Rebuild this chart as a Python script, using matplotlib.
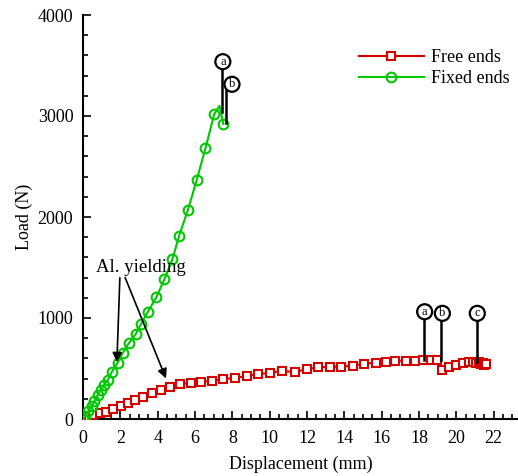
import matplotlib
matplotlib.use("Agg")
import matplotlib.pyplot as plt
from matplotlib.ticker import MultipleLocator

plt.rcParams['font.family'] = ['Liberation Serif', 'DejaVu Serif']

# Free ends (red squares)
free_x = [0, 0.3, 0.56, 0.91, 1.22, 1.62, 2.03, 2.43, 2.79, 3.24, 3.7, 4.16, 4.66, 5.22,
          5.78, 6.34, 6.9, 7.5, 8.16, 8.77, 9.38, 9.99, 10.65, 11.36, 12.02, 12.57, 13.23,
          13.84, 14.45, 15.06, 15.67, 16.22, 16.73, 17.29, 17.8, 18.2, 18.66, 18.96, 19.25,
          19.62, 19.98, 20.33, 20.69, 20.9, 21.04, 21.2, 21.3, 21.4, 21.5, 21.6]
free_y = [0, 20, 35, 56, 72, 96, 129, 155, 188, 221, 254, 290, 320, 344,
          360, 368, 378, 393, 409, 426, 443, 458, 475, 465, 495, 510, 518,
          518, 528, 548, 557, 567, 577, 577, 577, 580, 584, 584, 490,
          518, 535, 551, 567, 560, 555, 565, 540, 555, 530, 540]

# Fixed ends (green circles)
fixed_x = [0, 0.1, 0.28, 0.47, 0.61, 0.79, 0.96, 1.14, 1.34, 1.54, 1.85, 2.13, 2.45,
           2.82, 3.12, 3.47, 3.92, 4.36, 4.79, 5.15, 5.62, 6.09, 6.56, 7.03, 7.31, 7.52]
fixed_y = [0, 25, 75, 125, 175, 240, 290, 340, 390, 465, 555, 655, 748,
           840, 945, 1060, 1203, 1383, 1581, 1815, 2070, 2366, 2680, 3020, 3100, 2920]

# annotation labels: (label, bubble_x, bubble_y, line_x, line_top, line_bottom)
ann_labels = ['a', 'b', 'a', 'b', 'c']
ann_bx = [7.49, 7.98, 18.3, 19.25, 21.12]
ann_by = [3538, 3314, 1062, 1046, 1046]
ann_lx = [7.43, 7.65, 18.25, 19.15, 21.08]
ann_ltop = [3500, 3314, 1030, 1020, 1020]
ann_lbot = [3043, 2928, 584, 584, 567]

fig = plt.figure(figsize=(5.18, 4.76), dpi=100)
ax = fig.add_axes([83/518, 1-419/476, 435/518, 404/476])

red = '#d40000'
green = '#00c800'
ax.plot(free_x, free_y, color=red, lw=1.5, marker='s', ms=5.5, mfc='white',
        mec=red, mew=1.5, label='Free ends', zorder=3)
mk = [i for i in range(len(fixed_x)) if i != len(fixed_x) - 2]
ax.plot(fixed_x, fixed_y, color=green, lw=1.5, marker='o', ms=7, mfc='none',
        mec=green, mew=1.5, markevery=mk, label='Fixed ends', zorder=3)

for lab, bx, by, lx, lt, lb in zip(ann_labels, ann_bx, ann_by, ann_lx, ann_ltop, ann_lbot):
    ax.plot([lx, lx], [lb, lt], color='black', lw=1.8, zorder=4)
    ax.text(bx, by, lab, ha='center', va='center', fontsize=9, zorder=5,
            bbox=dict(boxstyle='circle,pad=0.12', fc='white', ec='black', lw=1.6))

ax.text(3.11, 1500, 'Al. yielding', ha='center', va='center', fontsize=13.5)
ax.annotate('', xy=(1.81, 535), xytext=(1.98, 1426),
            arrowprops=dict(arrowstyle='-|>', color='black', lw=1.2, mutation_scale=14))
ax.annotate('', xy=(4.5, 376), xytext=(2.2, 1426),
            arrowprops=dict(arrowstyle='-|>', color='black', lw=1.2, mutation_scale=14))

ax.set_xlim(0, 23.3)
ax.set_ylim(0, 4000)
ax.xaxis.set_major_locator(MultipleLocator(2))
ax.xaxis.set_minor_locator(MultipleLocator(0.5))
ax.yaxis.set_major_locator(MultipleLocator(1000))
ax.yaxis.set_minor_locator(MultipleLocator(200))
ax.tick_params(which='both', direction='in', labelsize=13, width=1.2)
ax.tick_params(which='major', length=6)
ax.tick_params(which='minor', length=3.5)
ax.tick_params(axis='x', which='major', pad=8)
ax.tick_params(axis='y', which='major', pad=7)
for s in ['top', 'right']:
    ax.spines[s].set_visible(False)
for s in ['left', 'bottom']:
    ax.spines[s].set_linewidth(1.5)

ax.set_xlabel('Displacement (mm)', fontsize=13, labelpad=6)
ax.set_ylabel('Load (N)', fontsize=13, labelpad=3)

ax.legend(loc='upper left', bbox_to_anchor=(0.617, 0.934), frameon=False, fontsize=13,
          handlelength=3.6, numpoints=1, borderaxespad=0, labelspacing=0.25,
          handletextpad=0.4)

fig.savefig('out.png', dpi=100)
